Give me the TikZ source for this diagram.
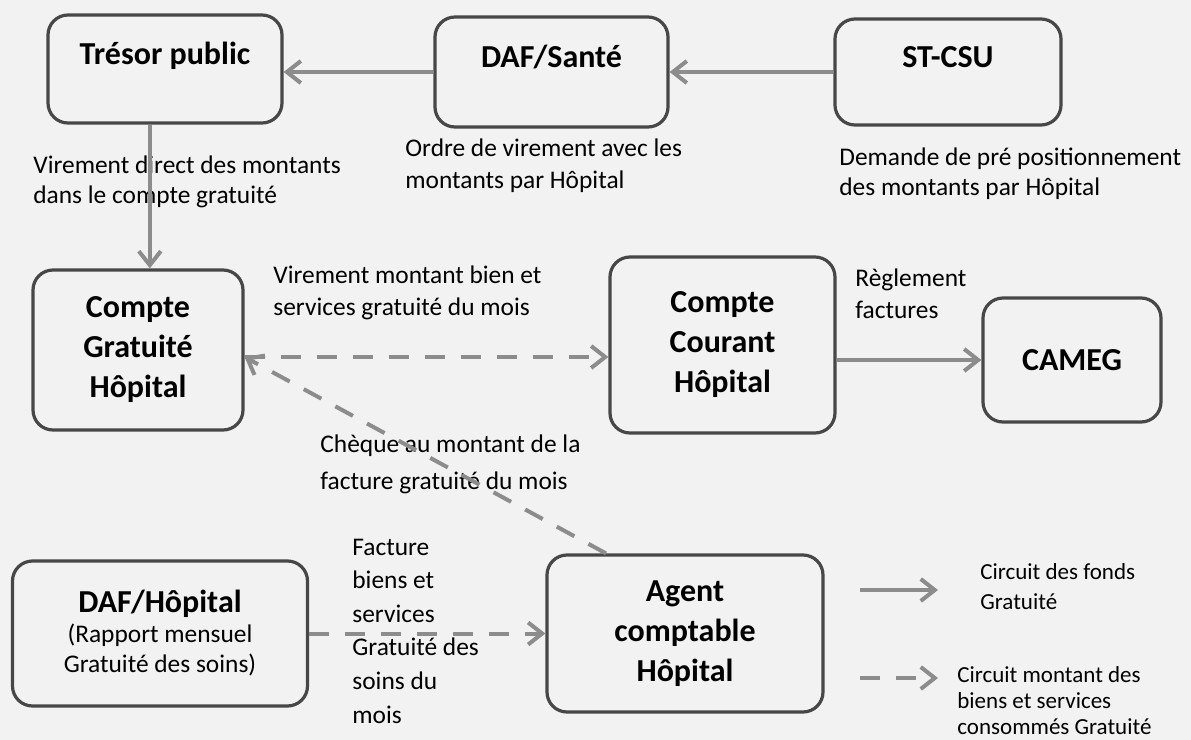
\documentclass[tikz,border=0pt]{standalone}
\usepackage{fontspec}
\setmainfont{Carlito}
\usetikzlibrary{arrows.meta,calc,positioning}
\newcommand{\normaltexte}{\mdseries\fontsize{12.7}{15}\selectfont}
\newcommand{\grastexte}{\bfseries\fontsize{16}{15}\selectfont}
\tikzset{
	>={Straight Barb[length=7pt,width=11pt]},
	boite/.style={
		rectangle,
		rounded corners=10pt,
		draw=black!72, line width=1.6pt,
		align=center,
		font=\fontsize{16}{20}\selectfont\bfseries},
	haut/.style={
		boite,
		text height=12pt,
		text depth=17pt},
	fonds/.style={
		->,
		draw=black!45,
		line width=2pt},
	biens/.style={
		->,
		draw=black!45,
		line width=2pt,
		dash pattern=on 10pt off 8pt},
	note/.style={
		align=left,
		inner sep=0pt,
		anchor=west,
		font=\fontsize{12.7}{16}\selectfont},
	legende/.style={
		align=left,
		inner sep=0pt,
		anchor=west,
		font=\fontsize{11.5}{13}\selectfont}
}

\begin{document}
\begin{tikzpicture}[x=0.5pt,y=0.5pt,yscale=-1]
\fill[black!5] (0,0) rectangle (1191,740);
\useasboundingbox (0,0) rectangle (1191,740);

% Boites
\node[haut, minimum width=117pt, minimum height=54pt] (tresor) at (165,69) {Trésor public};
\node[haut, minimum width=116.5pt, minimum height=55pt] (sante) at (551.5,72) {DAF/Santé};
\node[haut, minimum width=113pt, minimum height=53pt] (stcsu) at (948,72) {ST-CSU};
\node[boite, minimum width=105pt, minimum height=80pt] (cg) at (138,350) {Compte\\Gratuité\\Hôpital};
\node[boite, minimum width=112.5pt, minimum height=88pt] (cc) at (722.5,345) {Compte\\Courant\\Hôpital};
\node[boite, minimum width=89pt, minimum height=62pt] (cameg) at (1072,360) {CAMEG};
\node[boite, font=\normaltexte, minimum width=147.5pt, minimum height=72.5pt] (dafh) at (160,633.5) {{\grastexte DAF/Hôpital}\\(Rapport mensuel\\Gratuité des soins)};
\node[boite, minimum width=138pt, minimum height=78.5pt] (agent) at (685,633.5) {Agent\\comptable\\Hôpital};

% Text Node
\node[note, font=\fontsize{12.7}{15}\selectfont] (txtvir) at (33,182) {Virement direct des montants\\dans le compte gratuité};
% Text Node
\node[note] (txtordre) at (405,166) {Ordre de virement avec les\\montants par Hôpital};
% Text Node
\node[note, font=\fontsize{12.7}{15}\selectfont] (txtdem) at (839,174) {Demande de pré positionnement\\des montants par Hôpital};
% Text Node
\node[note] (txtmois) at (273,293) {Virement montant bien et\\services gratuité du mois};
% Text Node
\node[note] (txtregl) at (855,294) {Règlement\\factures};
% Text Node
\node[note, font=\fontsize{12.7}{18.5}\selectfont] (txtcheque) at (320,464) {Chèque au montant de la\\facture gratuité du mois};
% Text Node
\node[note, font=\fontsize{12.7}{16.8}\selectfont] (txtfact) at (352,631) {Facture\\biens et\\services\\Gratuité des\\soins du\\mois};

% Fleches
\coordinate (cgout) at ($(cg.east)+(0,7)$);
\draw[fonds] (sante.west) -- (sante.west -| tresor.east);
\draw[fonds] (stcsu.west) -- (stcsu.west -| sante.east);
\draw[fonds] ($(tresor.south west)!0.436!(tresor.south east)$) coordinate (tv) -- (tv |- cg.north);
\draw[biens] (cgout) -- (cgout -| cc.west);
\draw[fonds] (cc.east |- cameg.west) -- (cameg.west);
\draw[biens] ($(agent.north west)!0.217!(agent.north east)$) -- (cgout);
\draw[biens] (dafh.east) -- (dafh.east -| agent.west);

% Legende
\coordinate (lega) at (860,590);
\coordinate (legb) at (938,590);
\coordinate (legc) at (860,678);
\coordinate (legd) at (938,678);
\draw[fonds] (lega) -- (legb);
\draw[biens] (legc) -- (legd);
\node[legende, font=\fontsize{11.5}{15}\selectfont] (legfonds) at (980,587) {Circuit des fonds\\Gratuité};
\node[legende] (legbiens) at (957,701) {Circuit montant des\\biens et services\\consommés Gratuité};
\end{tikzpicture}
\end{document}
